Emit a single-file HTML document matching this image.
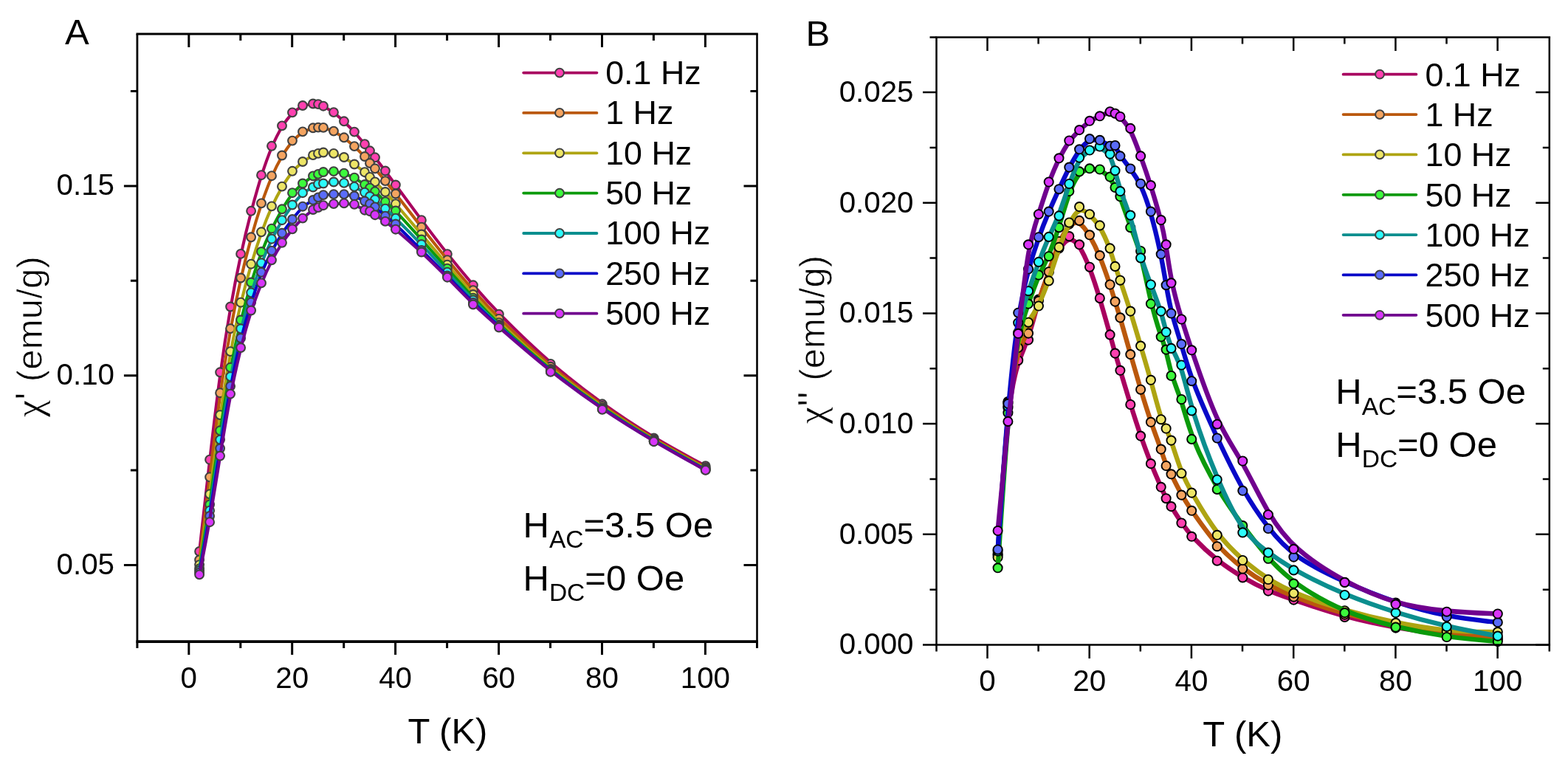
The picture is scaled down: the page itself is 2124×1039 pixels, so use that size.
<!DOCTYPE html>
<html lang="en">
<head>
<meta charset="utf-8">
<title>AC susceptibility vs temperature</title>
<style>
html,body{margin:0;padding:0;background:#fff;}
body{width:2124px;height:1039px;overflow:hidden;}
svg{display:block;}
svg text{font-family:'Liberation Sans', sans-serif;fill:#000;}
</style>
</head>
<body>
<svg width="2124" height="1039" viewBox="0 0 2124 1039">
<rect width="2124" height="1039" fill="#fff"/>
<g id="panelA">
<g><path d="M270.1 747C270.1 747 270.1 747 272.4 726.3C274.8 705.6 279.4 664.1 284.1 623.7C288.7 583.2 293.4 543.8 298.1 509.2C302.7 474.7 307.4 445.1 312.1 418.4C316.7 391.6 321.4 367.8 326.1 346.2C330.7 324.5 335.4 305.2 340.1 287.4C344.7 269.6 349.4 253.4 354 238.7C358.7 224.1 363.4 210.9 368 199.8C372.7 188.7 377.4 179.5 382 172C386.7 164.4 391.4 158.4 396 153.8C400.7 149.3 405.3 146.1 410 144.2C414.7 142.2 419.3 141.3 422.8 141C426.3 140.7 428.7 140.9 431 141.4C433.3 142 435.7 142.8 439.2 144.7C442.7 146.5 447.3 149.3 452 152.7C456.7 156.2 461.3 160.2 466 164.7C470.6 169.1 475.3 173.8 480 179C484.6 184.1 489.3 189.7 492.8 194C496.3 198.2 498.6 201.3 501 204.3C503.3 207.3 505.6 210.3 509.1 214.8C512.6 219.4 517.3 225.4 521.9 231.6C526.6 237.8 531.3 244.2 539.4 255.3C547.6 266.4 559.3 282.3 570.9 297.9C582.6 313.5 594.2 328.8 605.9 343.5C617.6 358.2 629.2 372.2 640.9 385.8C652.5 399.4 664.2 412.5 681.7 430.3C699.2 448 722.5 470.5 745.8 490.8C769.1 511 792.5 529.2 815.8 545.9C839.1 562.7 862.4 578 885.7 592C909.1 606 932.4 618.5 944 624.8C955.7 631.1 955.7 631.1 955.7 631.1" fill="none" stroke="#A8005F" stroke-width="4.1" stroke-linejoin="round" stroke-linecap="round"/>
<g fill="#FF40B0" stroke="#404040" stroke-width="2.1">
<circle cx="270.1" cy="747" r="5.9"/><circle cx="284.1" cy="622.7" r="5.9"/><circle cx="298.1" cy="504.3" r="5.9"/><circle cx="312.1" cy="415.5" r="5.9"/><circle cx="326.1" cy="343.9" r="5.9"/><circle cx="340.1" cy="285.8" r="5.9"/><circle cx="354" cy="237.2" r="5.9"/><circle cx="368" cy="197.8" r="5.9"/><circle cx="382" cy="170.4" r="5.9"/><circle cx="396" cy="152.4" r="5.9"/><circle cx="410" cy="143" r="5.9"/><circle cx="424" cy="140.5" r="5.9"/><circle cx="431" cy="141.1" r="5.9"/><circle cx="438" cy="143.7" r="5.9"/><circle cx="452" cy="152.1" r="5.9"/><circle cx="466" cy="164.3" r="5.9"/><circle cx="480" cy="178.6" r="5.9"/><circle cx="494" cy="195.2" r="5.9"/><circle cx="501" cy="204.3" r="5.9"/><circle cx="508" cy="213.3" r="5.9"/><circle cx="521.9" cy="231.5" r="5.9"/><circle cx="535.9" cy="250.5" r="5.9"/><circle cx="570.9" cy="298.2" r="5.9"/><circle cx="605.9" cy="344.1" r="5.9"/><circle cx="640.9" cy="386.3" r="5.9"/><circle cx="675.9" cy="425.6" r="5.9"/><circle cx="745.8" cy="492.9" r="5.9"/><circle cx="815.8" cy="547.3" r="5.9"/><circle cx="885.7" cy="593.4" r="5.9"/><circle cx="955.7" cy="631.1" r="5.9"/>
</g></g>
<g><path d="M270.1 758.5C270.1 758.5 270.1 758.5 272.4 739.8C274.8 721.1 279.4 683.7 284.1 646C288.7 608.3 293.4 570.2 298.1 536.7C302.7 503.2 307.4 474.1 312.1 448.2C316.7 422.2 321.4 399.4 326.1 378.7C330.7 358.1 335.4 339.7 340.1 322.8C344.7 306 349.4 290.7 354 276.8C358.7 263 363.4 250.6 368 239.8C372.7 229 377.4 219.7 382 211.8C386.7 203.9 391.4 197.2 396 191.9C400.7 186.5 405.3 182.5 410 179.6C414.7 176.7 419.3 175 422.8 174C426.3 173.1 428.7 172.8 431 172.8C433.3 172.7 435.7 172.8 439.2 173.6C442.7 174.5 447.3 176 452 178.3C456.7 180.5 461.3 183.4 466 186.8C470.6 190.2 475.3 194.2 480 198.5C484.6 202.7 489.3 207.4 492.8 211.2C496.3 215 498.6 218 501 220.7C503.3 223.4 505.6 225.9 509.1 229.9C512.6 233.9 517.3 239.5 521.9 245.2C526.6 250.9 531.3 256.7 539.4 267.1C547.6 277.6 559.3 292.6 570.9 307.6C582.6 322.5 594.2 337.4 605.9 351.6C617.6 365.9 629.2 379.5 640.9 392.8C652.5 406.1 664.2 419 681.7 436.3C699.2 453.5 722.5 475.1 745.8 494.8C769.1 514.5 792.5 532.2 815.8 548.6C839.1 565 862.4 580 885.7 593.9C909.1 607.8 932.4 620.4 944 626.8C955.7 633.1 955.7 633.1 955.7 633.1" fill="none" stroke="#BA580C" stroke-width="4.1" stroke-linejoin="round" stroke-linecap="round"/>
<g fill="#F4A460" stroke="#404040" stroke-width="2.1">
<circle cx="270.1" cy="758.5" r="5.9"/><circle cx="284.1" cy="646.3" r="5.9"/><circle cx="298.1" cy="532.2" r="5.9"/><circle cx="312.1" cy="445.1" r="5.9"/><circle cx="326.1" cy="376.5" r="5.9"/><circle cx="340.1" cy="321.3" r="5.9"/><circle cx="354" cy="275.4" r="5.9"/><circle cx="368" cy="238.2" r="5.9"/><circle cx="382" cy="210.5" r="5.9"/><circle cx="396" cy="190.6" r="5.9"/><circle cx="410" cy="178.4" r="5.9"/><circle cx="424" cy="173.3" r="5.9"/><circle cx="431" cy="172.6" r="5.9"/><circle cx="438" cy="172.9" r="5.9"/><circle cx="452" cy="177.6" r="5.9"/><circle cx="466" cy="186.3" r="5.9"/><circle cx="480" cy="198.1" r="5.9"/><circle cx="494" cy="212" r="5.9"/><circle cx="501" cy="221" r="5.9"/><circle cx="508" cy="228.3" r="5.9"/><circle cx="521.9" cy="245.1" r="5.9"/><circle cx="535.9" cy="262.5" r="5.9"/><circle cx="570.9" cy="307.7" r="5.9"/><circle cx="605.9" cy="352.2" r="5.9"/><circle cx="640.9" cy="393.2" r="5.9"/><circle cx="675.9" cy="431.9" r="5.9"/><circle cx="745.8" cy="496.8" r="5.9"/><circle cx="815.8" cy="549.9" r="5.9"/><circle cx="885.7" cy="595.1" r="5.9"/><circle cx="955.7" cy="633.1" r="5.9"/>
</g></g>
<g><path d="M270.1 765.1C270.1 765.1 270.1 765.1 272.4 749.1C274.8 733.2 279.4 701.3 284.1 667.5C288.7 633.6 293.4 597.9 298.1 565.6C302.7 533.4 307.4 504.8 312.1 479.4C316.7 454 321.4 431.8 326.1 412.1C330.7 392.4 335.4 375 340.1 359.1C344.7 343.2 349.4 328.8 354 315.7C358.7 302.7 363.4 291 368 280.7C372.7 270.5 377.4 261.5 382 253.6C386.7 245.7 391.4 238.7 396 233.1C400.7 227.5 405.3 223.3 410 219.6C414.7 216 419.3 213.1 422.8 211.2C426.3 209.4 428.7 208.6 431 208C433.3 207.4 435.7 207 439.2 207C442.7 207 447.3 207.4 452 208.5C456.7 209.6 461.3 211.3 466 213.7C470.6 216.2 475.3 219.3 480 222.7C484.6 226.1 489.3 229.6 492.8 232.5C496.3 235.4 498.6 237.7 501 239.9C503.3 242.1 505.6 244.2 509.1 247.6C512.6 250.9 517.3 255.5 521.9 260.4C526.6 265.4 531.3 270.7 539.4 280.3C547.6 289.9 559.3 303.7 570.9 317.4C582.6 331.2 594.2 344.9 605.9 358.5C617.6 372.1 629.2 385.5 640.9 398.6C652.5 411.7 664.2 424.4 681.7 441.2C699.2 458 722.5 479 745.8 498.2C769.1 517.3 792.5 534.7 815.8 550.8C839.1 566.9 862.4 581.7 885.7 595.5C909.1 609.3 932.4 622 944 628.4C955.7 634.8 955.7 634.8 955.7 634.8" fill="none" stroke="#AEA412" stroke-width="4.1" stroke-linejoin="round" stroke-linecap="round"/>
<g fill="#EDE566" stroke="#404040" stroke-width="2.1">
<circle cx="270.1" cy="765.1" r="5.9"/><circle cx="284.1" cy="669.4" r="5.9"/><circle cx="298.1" cy="562.1" r="5.9"/><circle cx="312.1" cy="476.1" r="5.9"/><circle cx="326.1" cy="409.7" r="5.9"/><circle cx="340.1" cy="357.7" r="5.9"/><circle cx="354" cy="314.3" r="5.9"/><circle cx="368" cy="279.4" r="5.9"/><circle cx="382" cy="252.6" r="5.9"/><circle cx="396" cy="231.8" r="5.9"/><circle cx="410" cy="219" r="5.9"/><circle cx="424" cy="210.1" r="5.9"/><circle cx="431" cy="207.9" r="5.9"/><circle cx="438" cy="206.5" r="5.9"/><circle cx="452" cy="207.9" r="5.9"/><circle cx="466" cy="213" r="5.9"/><circle cx="480" cy="222.5" r="5.9"/><circle cx="494" cy="233.2" r="5.9"/><circle cx="501" cy="239.9" r="5.9"/><circle cx="508" cy="246.4" r="5.9"/><circle cx="521.9" cy="260" r="5.9"/><circle cx="535.9" cy="276.1" r="5.9"/><circle cx="570.9" cy="317.5" r="5.9"/><circle cx="605.9" cy="358.6" r="5.9"/><circle cx="640.9" cy="399" r="5.9"/><circle cx="675.9" cy="437.1" r="5.9"/><circle cx="745.8" cy="499.9" r="5.9"/><circle cx="815.8" cy="552.1" r="5.9"/><circle cx="885.7" cy="596.5" r="5.9"/><circle cx="955.7" cy="634.8" r="5.9"/>
</g></g>
<g><path d="M270.1 770.3C270.1 770.3 270.1 770.3 272.4 755.8C274.8 741.4 279.4 712.4 284.1 681.3C288.7 650.1 293.4 616.7 298.1 585.8C302.7 554.8 307.4 526.3 312.1 501.3C316.7 476.4 321.4 454.9 326.1 435.7C330.7 416.5 335.4 399.5 340.1 384.1C344.7 368.7 349.4 354.8 354 342.7C358.7 330.6 363.4 320.1 368 310.5C372.7 300.9 377.4 292.1 382 284C386.7 275.9 391.4 268.6 396 262.8C400.7 257 405.3 252.7 410 248.9C414.7 245.1 419.3 241.8 422.8 239.7C426.3 237.6 428.7 236.7 431 235.8C433.3 234.9 435.7 234 439.2 233.3C442.7 232.7 447.3 232.4 452 232.7C456.7 232.9 461.3 233.8 466 235.2C470.6 236.6 475.3 238.7 480 241.2C484.6 243.8 489.3 246.9 492.8 249.2C496.3 251.5 498.6 253.1 501 254.6C503.3 256.2 505.6 257.8 509.1 260.9C512.6 264 517.3 268.6 521.9 272.9C526.6 277.3 531.3 281.4 539.4 289.9C547.6 298.5 559.3 311.5 570.9 324.5C582.6 337.5 594.2 350.6 605.9 363.8C617.6 376.9 629.2 390.3 640.9 403C652.5 415.7 664.2 427.9 681.7 444.2C699.2 460.6 722.5 481.1 745.8 500C769.1 518.9 792.5 536.1 815.8 552C839.1 567.9 862.4 582.6 885.7 596.3C909.1 610.1 932.4 622.9 944 629.3C955.7 635.7 955.7 635.7 955.7 635.7" fill="none" stroke="#0B9A0B" stroke-width="4.1" stroke-linejoin="round" stroke-linecap="round"/>
<g fill="#3CFA3C" stroke="#404040" stroke-width="2.1">
<circle cx="270.1" cy="770.3" r="5.9"/><circle cx="284.1" cy="683.5" r="5.9"/><circle cx="298.1" cy="583.3" r="5.9"/><circle cx="312.1" cy="497.8" r="5.9"/><circle cx="326.1" cy="433.5" r="5.9"/><circle cx="340.1" cy="382.5" r="5.9"/><circle cx="354" cy="341" r="5.9"/><circle cx="368" cy="309.7" r="5.9"/><circle cx="382" cy="283.3" r="5.9"/><circle cx="396" cy="261.2" r="5.9"/><circle cx="410" cy="248.5" r="5.9"/><circle cx="424" cy="238.4" r="5.9"/><circle cx="431" cy="235.9" r="5.9"/><circle cx="438" cy="233" r="5.9"/><circle cx="452" cy="232.1" r="5.9"/><circle cx="466" cy="234.6" r="5.9"/><circle cx="480" cy="240.7" r="5.9"/><circle cx="494" cy="250" r="5.9"/><circle cx="501" cy="254.6" r="5.9"/><circle cx="508" cy="259.4" r="5.9"/><circle cx="521.9" cy="273.2" r="5.9"/><circle cx="535.9" cy="285.5" r="5.9"/><circle cx="570.9" cy="324.5" r="5.9"/><circle cx="605.9" cy="363.6" r="5.9"/><circle cx="640.9" cy="403.6" r="5.9"/><circle cx="675.9" cy="440" r="5.9"/><circle cx="745.8" cy="501.7" r="5.9"/><circle cx="815.8" cy="553.3" r="5.9"/><circle cx="885.7" cy="597.2" r="5.9"/><circle cx="955.7" cy="635.7" r="5.9"/>
</g></g>
<g><path d="M270.1 773C270.1 773 270.1 773 272.4 759.4C274.8 745.9 279.4 718.8 284.1 689.2C288.7 659.7 293.4 627.6 298.1 597.4C302.7 567.1 307.4 538.6 312.1 513.6C316.7 488.5 321.4 466.9 326.1 448C330.7 429 335.4 412.7 340.1 397.9C344.7 383 349.4 369.7 354 357.5C358.7 345.4 363.4 334.6 368 324.9C372.7 315.2 377.4 306.7 382 299C386.7 291.3 391.4 284.4 396 278.2C400.7 272.1 405.3 266.6 410 262.6C414.7 258.6 419.3 256.1 422.8 254.1C426.3 252.1 428.7 250.7 431 249.9C433.3 249 435.7 248.8 439.2 248.3C442.7 247.8 447.3 247.2 452 247.1C456.7 247 461.3 247.4 466 248.5C470.6 249.6 475.3 251.2 480 253.4C484.6 255.5 489.3 258.1 492.8 260.3C496.3 262.5 498.6 264.2 501 265.8C503.3 267.4 505.6 268.9 509.1 271.6C512.6 274.4 517.3 278.5 521.9 282.7C526.6 286.9 531.3 291.3 539.4 299.3C547.6 307.4 559.3 319.2 570.9 331.4C582.6 343.6 594.2 356.1 605.9 368.7C617.6 381.3 629.2 393.9 640.9 406C652.5 418.2 664.2 429.8 681.7 445.9C699.2 461.9 722.5 482.3 745.8 501C769.1 519.8 792.5 536.9 815.8 552.7C839.1 568.5 862.4 583.1 885.7 596.8C909.1 610.5 932.4 623.4 944 629.8C955.7 636.3 955.7 636.3 955.7 636.3" fill="none" stroke="#0B8E8E" stroke-width="4.1" stroke-linejoin="round" stroke-linecap="round"/>
<g fill="#2CFAFA" stroke="#404040" stroke-width="2.1">
<circle cx="270.1" cy="773" r="5.9"/><circle cx="284.1" cy="691.7" r="5.9"/><circle cx="298.1" cy="595.6" r="5.9"/><circle cx="312.1" cy="510.1" r="5.9"/><circle cx="326.1" cy="445.3" r="5.9"/><circle cx="340.1" cy="396.4" r="5.9"/><circle cx="354" cy="356.3" r="5.9"/><circle cx="368" cy="323.7" r="5.9"/><circle cx="382" cy="298.2" r="5.9"/><circle cx="396" cy="277.5" r="5.9"/><circle cx="410" cy="261.2" r="5.9"/><circle cx="424" cy="253.5" r="5.9"/><circle cx="431" cy="249.3" r="5.9"/><circle cx="438" cy="248.5" r="5.9"/><circle cx="452" cy="246.5" r="5.9"/><circle cx="466" cy="247.9" r="5.9"/><circle cx="480" cy="252.9" r="5.9"/><circle cx="494" cy="260.7" r="5.9"/><circle cx="501" cy="266" r="5.9"/><circle cx="508" cy="270.3" r="5.9"/><circle cx="521.9" cy="282.6" r="5.9"/><circle cx="535.9" cy="295.6" r="5.9"/><circle cx="570.9" cy="331" r="5.9"/><circle cx="605.9" cy="368.7" r="5.9"/><circle cx="640.9" cy="406.5" r="5.9"/><circle cx="675.9" cy="441.5" r="5.9"/><circle cx="745.8" cy="502.7" r="5.9"/><circle cx="815.8" cy="554" r="5.9"/><circle cx="885.7" cy="597.7" r="5.9"/><circle cx="955.7" cy="636.3" r="5.9"/>
</g></g>
<g><path d="M270.1 775.7C270.1 775.7 270.1 775.7 272.4 762.9C274.8 750.1 279.4 724.6 284.1 696.5C288.7 668.5 293.4 638 298.1 608.7C302.7 579.4 307.4 551.2 312.1 526.3C316.7 501.4 321.4 479.7 326.1 460.8C330.7 441.9 335.4 425.8 340.1 411C344.7 396.1 349.4 382.5 354 370.8C358.7 359.1 363.4 349.4 368 340.5C372.7 331.7 377.4 323.7 382 316.6C386.7 309.5 391.4 303.3 396 297.2C400.7 291.2 405.3 285.5 410 281.1C414.7 276.8 419.3 273.9 422.8 271.8C426.3 269.8 428.7 268.6 431 267.4C433.3 266.3 435.7 265.2 439.2 264.5C442.7 263.8 447.3 263.4 452 263.3C456.7 263.1 461.3 263.1 466 263.5C470.6 263.9 475.3 264.7 480 266.3C484.6 267.8 489.3 270.2 492.8 271.9C496.3 273.7 498.6 274.9 501 276.2C503.3 277.5 505.6 279 509.1 281.7C512.6 284.5 517.3 288.6 521.9 292.4C526.6 296.3 531.3 299.9 539.4 307.6C547.6 315.3 559.3 327.2 570.9 338.8C582.6 350.5 594.2 362 605.9 373.8C617.6 385.7 629.2 397.8 640.9 409.3C652.5 420.8 664.2 431.7 681.7 447.2C699.2 462.7 722.5 483 745.8 501.6C769.1 520.3 792.5 537.3 815.8 553.1C839.1 568.9 862.4 583.4 885.7 597.1C909.1 610.8 932.4 623.7 944 630.1C955.7 636.6 955.7 636.6 955.7 636.6" fill="none" stroke="#0808C8" stroke-width="4.1" stroke-linejoin="round" stroke-linecap="round"/>
<g fill="#5A6CFA" stroke="#404040" stroke-width="2.1">
<circle cx="270.1" cy="775.7" r="5.9"/><circle cx="284.1" cy="699" r="5.9"/><circle cx="298.1" cy="607.5" r="5.9"/><circle cx="312.1" cy="523.1" r="5.9"/><circle cx="326.1" cy="458" r="5.9"/><circle cx="340.1" cy="409.7" r="5.9"/><circle cx="354" cy="368.9" r="5.9"/><circle cx="368" cy="339.6" r="5.9"/><circle cx="382" cy="315.8" r="5.9"/><circle cx="396" cy="297" r="5.9"/><circle cx="410" cy="279.7" r="5.9"/><circle cx="424" cy="271" r="5.9"/><circle cx="431" cy="267.4" r="5.9"/><circle cx="438" cy="264.1" r="5.9"/><circle cx="452" cy="263.1" r="5.9"/><circle cx="466" cy="263.1" r="5.9"/><circle cx="480" cy="265.5" r="5.9"/><circle cx="494" cy="272.5" r="5.9"/><circle cx="501" cy="276.1" r="5.9"/><circle cx="508" cy="280.4" r="5.9"/><circle cx="521.9" cy="292.7" r="5.9"/><circle cx="535.9" cy="303.5" r="5.9"/><circle cx="570.9" cy="339" r="5.9"/><circle cx="605.9" cy="373.5" r="5.9"/><circle cx="640.9" cy="410" r="5.9"/><circle cx="675.9" cy="442.5" r="5.9"/><circle cx="745.8" cy="503.2" r="5.9"/><circle cx="815.8" cy="554.3" r="5.9"/><circle cx="885.7" cy="597.9" r="5.9"/><circle cx="955.7" cy="636.6" r="5.9"/>
</g></g>
<g><path d="M270.1 778.4C270.1 778.4 270.1 778.4 272.4 766.5C274.8 754.7 279.4 730.9 284.1 704.1C288.7 677.3 293.4 647.5 298.1 618.5C302.7 589.6 307.4 561.6 312.1 537.2C316.7 512.7 321.4 491.9 326.1 473C330.7 454.2 335.4 437.3 340.1 422.7C344.7 408.1 349.4 395.8 354 384.4C358.7 373 363.4 362.7 368 353.6C372.7 344.5 377.4 336.6 382 329.6C386.7 322.6 391.4 316.5 396 310.9C400.7 305.4 405.3 300.5 410 296.1C414.7 291.7 419.3 287.9 422.8 285.4C426.3 283 428.7 282.1 431 281.1C433.3 280.1 435.7 279.2 439.2 278.3C442.7 277.5 447.3 276.8 452 276.3C456.7 275.9 461.3 275.6 466 275.7C470.6 275.9 475.3 276.3 480 277.9C484.6 279.4 489.3 282.1 492.8 283.6C496.3 285.2 498.6 285.7 501 286.8C503.3 287.9 505.6 289.5 509.1 291.8C512.6 294.1 517.3 297 521.9 300.2C526.6 303.5 531.3 307.1 539.4 314C547.6 321 559.3 331.2 570.9 342.1C582.6 352.9 594.2 364.3 605.9 376.1C617.6 388 629.2 400.2 640.9 411.5C652.5 422.8 664.2 433.2 681.7 448.4C699.2 463.6 722.5 483.8 745.8 502.3C769.1 520.9 792.5 537.8 815.8 553.6C839.1 569.3 862.4 583.7 885.7 597.4C909.1 611.1 932.4 624 944 630.5C955.7 636.9 955.7 636.9 955.7 636.9" fill="none" stroke="#70008E" stroke-width="4.1" stroke-linejoin="round" stroke-linecap="round"/>
<g fill="#D835FA" stroke="#404040" stroke-width="2.1">
<circle cx="270.1" cy="778.4" r="5.9"/><circle cx="284.1" cy="707.2" r="5.9"/><circle cx="298.1" cy="617.6" r="5.9"/><circle cx="312.1" cy="533.6" r="5.9"/><circle cx="326.1" cy="471" r="5.9"/><circle cx="340.1" cy="420.5" r="5.9"/><circle cx="354" cy="383.4" r="5.9"/><circle cx="368" cy="352.3" r="5.9"/><circle cx="382" cy="328.8" r="5.9"/><circle cx="396" cy="310.3" r="5.9"/><circle cx="410" cy="295.6" r="5.9"/><circle cx="424" cy="284" r="5.9"/><circle cx="431" cy="281.1" r="5.9"/><circle cx="438" cy="278.2" r="5.9"/><circle cx="452" cy="276.1" r="5.9"/><circle cx="466" cy="275.4" r="5.9"/><circle cx="480" cy="276.8" r="5.9"/><circle cx="494" cy="284.7" r="5.9"/><circle cx="501" cy="286.2" r="5.9"/><circle cx="508" cy="291.2" r="5.9"/><circle cx="521.9" cy="299.9" r="5.9"/><circle cx="535.9" cy="310.7" r="5.9"/><circle cx="570.9" cy="341.5" r="5.9"/><circle cx="605.9" cy="375.7" r="5.9"/><circle cx="640.9" cy="412.5" r="5.9"/><circle cx="675.9" cy="443.5" r="5.9"/><circle cx="745.8" cy="503.9" r="5.9"/><circle cx="815.8" cy="554.8" r="5.9"/><circle cx="885.7" cy="598.2" r="5.9"/><circle cx="955.7" cy="636.9" r="5.9"/>
</g></g>
<g stroke="#000" fill="none" stroke-linecap="butt">
<path d="M184.5 46H1026.8" stroke-width="3.0"/>
<path d="M1025.5 46V869.1" stroke-width="2.6"/>
<path d="M184.5 869.1H1026.8" stroke-width="3.6"/>
<path d="M185.9 46V869.1" stroke-width="2.8"/>
</g>
<path d="M185.9 869.1v9M255.8 869.1v18M255.8 46v18M325.8 869.1v9M325.8 46v9M395.7 869.1v18M395.7 46v18M465.7 869.1v9M465.7 46v9M535.6 869.1v18M535.6 46v18M605.6 869.1v9M605.6 46v9M675.6 869.1v18M675.6 46v18M745.5 869.1v9M745.5 46v9M815.5 869.1v18M815.5 46v18M885.4 869.1v9M885.4 46v9M955.4 869.1v18M955.4 46v18M1025.5 869.1v9M185.9 765.6h-18M1025.5 765.6h-18M185.9 508.7h-18M1025.5 508.7h-18M185.9 251.9h-18M1025.5 251.9h-18M185.9 637.1h-9M1025.5 637.1h-9M185.9 380.3h-9M1025.5 380.3h-9M185.9 123.4h-9M1025.5 123.4h-9" fill="none" stroke="#000" stroke-width="3.0" stroke-linecap="butt" stroke-linejoin="miter"/>
<g font-size="40.3" text-anchor="middle">
<text x="255.8" y="931.8">0</text>
<text x="395.7" y="931.8">20</text>
<text x="535.6" y="931.8">40</text>
<text x="675.6" y="931.8">60</text>
<text x="815.5" y="931.8">80</text>
<text x="955.4" y="931.8">100</text>
</g><g font-size="40.3" text-anchor="end">
<text x="155" y="778.4">0.05</text>
<text x="155" y="521">0.10</text>
<text x="155" y="263.7">0.15</text>
</g>
<text font-size="49.0" text-anchor="middle" x="606.4" y="1006.8">T (K)</text>
<text font-size="49.0" text-anchor="middle" transform="translate(57.4 456) rotate(-90)" stroke="#fff" stroke-width="0.8" paint-order="fill stroke" letter-spacing="0.2" xml:space="preserve"><tspan font-family="'Liberation Serif', serif" font-size="52" stroke-width="0.4">χ</tspan><tspan dy="1.5" font-size="55">'</tspan><tspan dy="-1.5"> (emu/g)</tspan></text>
<text font-size="49.0" x="88" y="60.3">A</text>
<path d="M709.2 98.6H808.4" stroke="#A8005F" stroke-width="3.8" stroke-linecap="round" fill="none"/>
<circle cx="758" cy="98.6" r="5.9" fill="#FF40B0" stroke="#404040" stroke-width="2.0"/>
<text font-size="44.8" x="820.2" y="113.8">0.1 Hz</text>
<path d="M709.2 152.9H808.4" stroke="#BA580C" stroke-width="3.8" stroke-linecap="round" fill="none"/>
<circle cx="758" cy="152.9" r="5.9" fill="#F4A460" stroke="#404040" stroke-width="2.0"/>
<text font-size="44.8" x="820.2" y="168.1">1 Hz</text>
<path d="M709.2 207.3H808.4" stroke="#AEA412" stroke-width="3.8" stroke-linecap="round" fill="none"/>
<circle cx="758" cy="207.3" r="5.9" fill="#EDE566" stroke="#404040" stroke-width="2.0"/>
<text font-size="44.8" x="820.2" y="222.5">10 Hz</text>
<path d="M709.2 261.6H808.4" stroke="#0B9A0B" stroke-width="3.8" stroke-linecap="round" fill="none"/>
<circle cx="758" cy="261.6" r="5.9" fill="#3CFA3C" stroke="#404040" stroke-width="2.0"/>
<text font-size="44.8" x="820.2" y="276.8">50 Hz</text>
<path d="M709.2 316H808.4" stroke="#0B8E8E" stroke-width="3.8" stroke-linecap="round" fill="none"/>
<circle cx="758" cy="316" r="5.9" fill="#2CFAFA" stroke="#404040" stroke-width="2.0"/>
<text font-size="44.8" x="820.2" y="331.2">100 Hz</text>
<path d="M709.2 370.4H808.4" stroke="#0808C8" stroke-width="3.8" stroke-linecap="round" fill="none"/>
<circle cx="758" cy="370.4" r="5.9" fill="#5A6CFA" stroke="#404040" stroke-width="2.0"/>
<text font-size="44.8" x="820.2" y="385.6">250 Hz</text>
<path d="M709.2 424.7H808.4" stroke="#70008E" stroke-width="3.8" stroke-linecap="round" fill="none"/>
<circle cx="758" cy="424.7" r="5.9" fill="#D835FA" stroke="#404040" stroke-width="2.0"/>
<text font-size="44.8" x="820.2" y="439.9">500 Hz</text>
<text font-size="49.0" x="708.5" y="727.8">H<tspan font-size="33.5" dy="14.3">AC</tspan><tspan dy="-14.3">=3.5 Oe</tspan></text>
<text font-size="49.0" x="708.5" y="799.6">H<tspan font-size="33.5" dy="14.3">DC</tspan><tspan dy="-14.3">=0 Oe</tspan></text>
</g>
<g id="panelB">
<g><path d="M1351.6 750.6C1351.6 750.6 1351.6 750.6 1353.9 716.2C1356.2 681.8 1360.8 612.9 1365.4 569.2C1370 525.5 1374.6 506.8 1379.2 492.9C1383.8 479 1388.4 469.8 1393 456C1397.6 442.3 1402.3 423.9 1406.9 408.6C1411.5 393.3 1416.1 380.9 1420.7 369.4C1425.3 357.9 1429.9 347.3 1434.5 339.2C1439.1 331.1 1443.7 325.6 1448.3 324.7C1452.9 323.8 1457.5 327.6 1462.1 334.5C1466.8 341.4 1471.4 351.6 1476 363.7C1480.6 375.8 1485.2 389.8 1489.8 405.1C1494.4 420.4 1499 436.9 1502.5 449.3C1505.9 461.8 1508.2 470.2 1510.5 478.3C1512.8 486.3 1515.1 494.1 1518.6 505.6C1522 517.2 1526.7 532.6 1531.3 547.4C1535.9 562.2 1540.5 576.4 1545.1 589.8C1549.7 603.1 1554.3 615.6 1558.9 627.1C1563.5 638.7 1568.1 649.2 1571.6 657.1C1575 664.9 1577.3 670.1 1579.6 674.5C1581.9 678.8 1584.2 682.5 1587.7 688C1591.2 693.6 1595.8 701 1600.4 707.8C1605 714.6 1609.6 720.7 1617.6 729.2C1625.7 737.8 1637.2 748.7 1648.7 758C1660.3 767.3 1671.8 774.8 1683.3 781.7C1694.8 788.5 1706.3 794.5 1717.9 799.6C1729.4 804.6 1740.9 808.6 1758.2 814.5C1775.4 820.4 1798.5 828.1 1821.5 834.5C1844.6 840.8 1867.6 845.7 1890.6 849.8C1913.7 853.9 1936.7 857.3 1959.7 859.9C1982.8 862.6 2005.8 864.6 2017.3 865.6C2028.8 866.6 2028.8 866.6 2028.9 866.6" fill="none" stroke="#A8005F" stroke-width="6.4" stroke-linejoin="round" stroke-linecap="round"/>
<g fill="#FF40B0" stroke="#000000" stroke-width="1.9">
<circle cx="1351.6" cy="750.6" r="6.1"/><circle cx="1365.4" cy="544.1" r="6.1"/><circle cx="1379.2" cy="488.2" r="6.1"/><circle cx="1393" cy="460.6" r="6.1"/><circle cx="1406.9" cy="405.6" r="6.1"/><circle cx="1420.7" cy="368.6" r="6.1"/><circle cx="1434.5" cy="336.6" r="6.1"/><circle cx="1448.3" cy="320.1" r="6.1"/><circle cx="1462.1" cy="331.3" r="6.1"/><circle cx="1476" cy="361.7" r="6.1"/><circle cx="1489.8" cy="403.9" r="6.1"/><circle cx="1503.6" cy="453.4" r="6.1"/><circle cx="1510.5" cy="478.6" r="6.1"/><circle cx="1517.4" cy="501.8" r="6.1"/><circle cx="1531.3" cy="548" r="6.1"/><circle cx="1545.1" cy="590.6" r="6.1"/><circle cx="1558.9" cy="628.1" r="6.1"/><circle cx="1572.7" cy="659.8" r="6.1"/><circle cx="1579.6" cy="675.2" r="6.1"/><circle cx="1586.5" cy="686.1" r="6.1"/><circle cx="1600.4" cy="708.5" r="6.1"/><circle cx="1614.2" cy="726.8" r="6.1"/><circle cx="1648.7" cy="759.7" r="6.1"/><circle cx="1683.3" cy="782.4" r="6.1"/><circle cx="1717.9" cy="800.6" r="6.1"/><circle cx="1752.4" cy="812.6" r="6.1"/><circle cx="1821.5" cy="835.9" r="6.1"/><circle cx="1890.6" cy="850.6" r="6.1"/><circle cx="1959.7" cy="860.6" r="6.1"/><circle cx="2028.8" cy="866.6" r="6.1"/>
</g></g>
<g><path d="M1351.6 752.6C1351.6 752.6 1351.6 752.6 1353.9 718.1C1356.2 683.6 1360.8 614.6 1365.4 567.6C1370 520.7 1374.6 495.8 1379.2 480.1C1383.8 464.5 1388.4 458 1393 447.5C1397.6 436.9 1402.3 422.3 1406.9 408.4C1411.5 394.5 1416.1 381.3 1420.7 367.9C1425.3 354.5 1429.9 340.7 1434.5 330C1439.1 319.2 1443.7 311.4 1448.3 306.7C1452.9 302 1457.5 300.5 1462.1 302.9C1466.8 305.4 1471.4 311.8 1476 319.7C1480.6 327.6 1485.2 336.8 1489.8 348C1494.4 359.2 1499 372.4 1502.5 382.8C1505.9 393.2 1508.2 400.9 1510.5 408.4C1512.8 415.8 1515.1 423.1 1518.6 435C1522 446.9 1526.7 463.5 1531.3 479.7C1535.9 496 1540.5 511.8 1545.1 527.1C1549.7 542.4 1554.3 557.1 1558.9 570.6C1563.5 584.1 1568.1 596.3 1571.6 606.2C1575 616.1 1577.3 623.5 1579.6 629.1C1581.9 634.8 1584.2 638.5 1587.7 645.1C1591.2 651.7 1595.8 661.2 1600.4 669.4C1605 677.7 1609.6 684.7 1617.6 696.3C1625.7 707.9 1637.2 724.1 1648.7 737.2C1660.3 750.3 1671.8 760.4 1683.3 769.1C1694.8 777.9 1706.3 785.2 1717.9 791.6C1729.4 797.9 1740.9 803.3 1758.2 809.9C1775.4 816.6 1798.5 824.6 1821.5 830.9C1844.6 837.3 1867.6 841.9 1890.6 846.1C1913.7 850.3 1936.7 853.9 1959.7 856.9C1982.8 859.9 2005.8 862.3 2017.3 863.4C2028.8 864.6 2028.8 864.6 2028.9 864.6" fill="none" stroke="#BA580C" stroke-width="6.4" stroke-linejoin="round" stroke-linecap="round"/>
<g fill="#F4A460" stroke="#000000" stroke-width="1.9">
<circle cx="1351.6" cy="752.6" r="6.1"/><circle cx="1365.4" cy="545.6" r="6.1"/><circle cx="1379.2" cy="470.9" r="6.1"/><circle cx="1393" cy="451.6" r="6.1"/><circle cx="1406.9" cy="407.6" r="6.1"/><circle cx="1420.7" cy="368.2" r="6.1"/><circle cx="1434.5" cy="327" r="6.1"/><circle cx="1448.3" cy="303.6" r="6.1"/><circle cx="1462.1" cy="298.9" r="6.1"/><circle cx="1476" cy="318.3" r="6.1"/><circle cx="1489.8" cy="346.1" r="6.1"/><circle cx="1503.6" cy="385.5" r="6.1"/><circle cx="1510.5" cy="408.6" r="6.1"/><circle cx="1517.4" cy="430.3" r="6.1"/><circle cx="1531.3" cy="480.1" r="6.1"/><circle cx="1545.1" cy="527.7" r="6.1"/><circle cx="1558.9" cy="571.8" r="6.1"/><circle cx="1572.7" cy="608.6" r="6.1"/><circle cx="1579.6" cy="631" r="6.1"/><circle cx="1586.5" cy="642.3" r="6.1"/><circle cx="1600.4" cy="670.6" r="6.1"/><circle cx="1614.2" cy="691.8" r="6.1"/><circle cx="1648.7" cy="740.2" r="6.1"/><circle cx="1683.3" cy="770.5" r="6.1"/><circle cx="1717.9" cy="792.6" r="6.1"/><circle cx="1752.4" cy="808.6" r="6.1"/><circle cx="1821.5" cy="832.6" r="6.1"/><circle cx="1890.6" cy="846.6" r="6.1"/><circle cx="1959.7" cy="857.6" r="6.1"/><circle cx="2028.8" cy="864.6" r="6.1"/>
</g></g>
<g><path d="M1351.6 755.1C1351.6 755.1 1351.6 755.1 1353.9 721.4C1356.2 687.6 1360.8 620.1 1365.4 569.7C1370 519.3 1374.6 485.9 1379.2 466.6C1383.8 447.3 1388.4 442 1393 435.7C1397.6 429.3 1402.3 421.9 1406.9 412.5C1411.5 403.1 1416.1 391.8 1420.7 378.5C1425.3 365.2 1429.9 350.1 1434.5 336.9C1439.1 323.8 1443.7 312.6 1448.3 303.5C1452.9 294.4 1457.5 287.2 1462.1 285.4C1466.8 283.5 1471.4 286.8 1476 291.1C1480.6 295.3 1485.2 300.3 1489.8 308C1494.4 315.7 1499 326.1 1502.5 335.3C1505.9 344.6 1508.2 352.7 1510.5 360C1512.8 367.2 1515.1 373.4 1518.6 383.6C1522 393.7 1526.7 407.6 1531.3 422.5C1535.9 437.3 1540.5 452.9 1545.1 468.5C1549.7 484 1554.3 499.4 1558.9 516C1563.5 532.6 1568.1 550.4 1571.6 561.4C1575 572.3 1577.3 576.4 1579.6 581.1C1581.9 585.9 1584.2 591.2 1587.7 601.4C1591.2 611.5 1595.8 626.3 1600.4 638.2C1605 650 1609.6 658.8 1617.6 672.7C1625.7 686.7 1637.2 705.7 1648.7 721C1660.3 736.2 1671.8 747.6 1683.3 757.6C1694.8 767.7 1706.3 776.3 1717.9 783.8C1729.4 791.2 1740.9 797.4 1758.2 804.4C1775.4 811.5 1798.5 819.3 1821.5 826C1844.6 832.7 1867.6 838.3 1890.6 843C1913.7 847.7 1936.7 851.5 1959.7 853.6C1982.8 855.6 2005.8 855.9 2017.3 856C2028.8 856.1 2028.8 856.1 2028.9 856.1" fill="none" stroke="#AEA412" stroke-width="6.4" stroke-linejoin="round" stroke-linecap="round"/>
<g fill="#EDE566" stroke="#000000" stroke-width="1.9">
<circle cx="1351.6" cy="755.1" r="6.1"/><circle cx="1365.4" cy="552.6" r="6.1"/><circle cx="1379.2" cy="452.6" r="6.1"/><circle cx="1393" cy="436.7" r="6.1"/><circle cx="1406.9" cy="414.5" r="6.1"/><circle cx="1420.7" cy="380.4" r="6.1"/><circle cx="1434.5" cy="334.9" r="6.1"/><circle cx="1448.3" cy="301.5" r="6.1"/><circle cx="1462.1" cy="280.1" r="6.1"/><circle cx="1476" cy="290.2" r="6.1"/><circle cx="1489.8" cy="305.4" r="6.1"/><circle cx="1503.6" cy="336.4" r="6.1"/><circle cx="1510.5" cy="360.9" r="6.1"/><circle cx="1517.4" cy="379.7" r="6.1"/><circle cx="1531.3" cy="421.6" r="6.1"/><circle cx="1545.1" cy="468.6" r="6.1"/><circle cx="1558.9" cy="514.8" r="6.1"/><circle cx="1572.7" cy="568.2" r="6.1"/><circle cx="1579.6" cy="580.5" r="6.1"/><circle cx="1586.5" cy="596.6" r="6.1"/><circle cx="1600.4" cy="641.2" r="6.1"/><circle cx="1614.2" cy="667.6" r="6.1"/><circle cx="1648.7" cy="724.8" r="6.1"/><circle cx="1683.3" cy="759" r="6.1"/><circle cx="1717.9" cy="785" r="6.1"/><circle cx="1752.4" cy="803.6" r="6.1"/><circle cx="1821.5" cy="827.2" r="6.1"/><circle cx="1890.6" cy="843.8" r="6.1"/><circle cx="1959.7" cy="855.4" r="6.1"/><circle cx="2028.8" cy="856.1" r="6.1"/>
</g></g>
<g><path d="M1351.6 769.3C1351.6 769.3 1351.6 769.3 1353.9 734.3C1356.2 699.3 1360.8 629.3 1365.4 576.2C1370 523.1 1374.6 486.8 1379.2 462.2C1383.8 437.6 1388.4 424.6 1393 411.6C1397.6 398.6 1402.3 385.5 1406.9 374.8C1411.5 364.1 1416.1 355.6 1420.7 344.9C1425.3 334.2 1429.9 321.2 1434.5 306.5C1439.1 291.8 1443.7 275.5 1448.3 262.8C1452.9 250.2 1457.5 241.3 1462.1 236.2C1466.8 231 1471.4 229.7 1476 229.2C1480.6 228.7 1485.2 229.1 1489.8 231C1494.4 232.9 1499 236.2 1502.5 240.3C1505.9 244.4 1508.2 249.2 1510.5 253.6C1512.8 258.1 1515.1 262.2 1518.6 271.2C1522 280.3 1526.7 294.2 1531.3 306.5C1535.9 318.8 1540.5 329.4 1545.1 346.6C1549.7 363.8 1554.3 387.7 1558.9 407.1C1563.5 426.4 1568.1 441.4 1571.6 451.7C1575 462.1 1577.3 467.8 1579.6 476.6C1581.9 485.4 1584.2 497.2 1587.7 508.4C1591.2 519.7 1595.8 530.3 1600.4 544.6C1605 559 1609.6 576.9 1617.6 597.2C1625.7 617.6 1637.2 640.2 1648.7 659.8C1660.3 679.3 1671.8 695.7 1683.3 711.4C1694.8 727 1706.3 741.9 1717.9 755C1729.4 768.1 1740.9 779.3 1758.2 791.6C1775.4 803.8 1798.5 816.9 1821.5 826.8C1844.6 836.6 1867.6 843.1 1890.6 848.6C1913.7 854.1 1936.7 858.5 1959.7 861.8C1982.8 865 2005.8 867.1 2017.3 868.1C2028.8 869.1 2028.8 869.1 2028.9 869.1" fill="none" stroke="#0B9A0B" stroke-width="6.4" stroke-linejoin="round" stroke-linecap="round"/>
<g fill="#3CFA3C" stroke="#000000" stroke-width="1.9">
<circle cx="1351.6" cy="769.3" r="6.1"/><circle cx="1365.4" cy="559.3" r="6.1"/><circle cx="1379.2" cy="450.6" r="6.1"/><circle cx="1393" cy="411.6" r="6.1"/><circle cx="1406.9" cy="372.5" r="6.1"/><circle cx="1420.7" cy="347.2" r="6.1"/><circle cx="1434.5" cy="308.2" r="6.1"/><circle cx="1448.3" cy="259.1" r="6.1"/><circle cx="1462.1" cy="232.4" r="6.1"/><circle cx="1476" cy="228.3" r="6.1"/><circle cx="1489.8" cy="229.5" r="6.1"/><circle cx="1503.6" cy="239.6" r="6.1"/><circle cx="1510.5" cy="254" r="6.1"/><circle cx="1517.4" cy="266.3" r="6.1"/><circle cx="1531.3" cy="308.2" r="6.1"/><circle cx="1545.1" cy="340" r="6.1"/><circle cx="1558.9" cy="411.5" r="6.1"/><circle cx="1572.7" cy="456.3" r="6.1"/><circle cx="1579.6" cy="473.6" r="6.1"/><circle cx="1586.5" cy="509" r="6.1"/><circle cx="1600.4" cy="541" r="6.1"/><circle cx="1614.2" cy="594.9" r="6.1"/><circle cx="1648.7" cy="662.9" r="6.1"/><circle cx="1683.3" cy="712.1" r="6.1"/><circle cx="1717.9" cy="756.8" r="6.1"/><circle cx="1752.4" cy="790.6" r="6.1"/><circle cx="1821.5" cy="830.1" r="6.1"/><circle cx="1890.6" cy="849.6" r="6.1"/><circle cx="1959.7" cy="863" r="6.1"/><circle cx="2028.8" cy="869.1" r="6.1"/>
</g></g>
<g><path d="M1351.6 746.6C1351.6 746.6 1351.6 746.6 1353.9 713.9C1356.2 681.3 1360.8 615.9 1365.4 564.4C1370 512.8 1374.6 475 1379.2 448.9C1383.8 422.9 1388.4 408.5 1393 394.8C1397.6 381.1 1402.3 368 1406.9 355.8C1411.5 343.6 1416.1 332.2 1420.7 321.8C1425.3 311.4 1429.9 301.9 1434.5 289.9C1439.1 277.9 1443.7 263.5 1448.3 250.3C1452.9 237.2 1457.5 225.4 1462.1 217.8C1466.8 210.2 1471.4 206.9 1476 204.3C1480.6 201.8 1485.2 200.2 1489.8 201C1494.4 201.9 1499 205.2 1502.5 210.7C1505.9 216.1 1508.2 223.7 1510.5 232.1C1512.8 240.5 1515.1 249.8 1518.6 259.9C1522 269.9 1526.7 280.8 1531.3 295.8C1535.9 310.9 1540.5 330.1 1545.1 345.8C1549.7 361.4 1554.3 373.5 1558.9 385.5C1563.5 397.5 1568.1 409.6 1571.6 420.3C1575 431 1577.3 440.4 1579.6 448.8C1581.9 457.2 1584.2 464.5 1587.7 472C1591.2 479.4 1595.8 487 1600.4 501.1C1605 515.1 1609.6 535.8 1617.6 561.6C1625.7 587.5 1637.2 618.6 1648.7 646.1C1660.3 673.6 1671.8 697.5 1683.3 714C1694.8 730.5 1706.3 739.5 1717.9 748C1729.4 756.5 1740.9 764.5 1758.2 774C1775.4 783.6 1798.5 794.8 1821.5 804.4C1844.6 814 1867.6 822.1 1890.6 829.2C1913.7 836.4 1936.7 842.6 1959.7 847.9C1982.8 853.1 2005.8 857.4 2017.3 859.5C2028.8 861.6 2028.8 861.6 2028.9 861.6" fill="none" stroke="#0B8E8E" stroke-width="6.4" stroke-linejoin="round" stroke-linecap="round"/>
<g fill="#2CFAFA" stroke="#000000" stroke-width="1.9">
<circle cx="1351.6" cy="746.6" r="6.1"/><circle cx="1365.4" cy="550.6" r="6.1"/><circle cx="1379.2" cy="437.2" r="6.1"/><circle cx="1393" cy="394.2" r="6.1"/><circle cx="1406.9" cy="354.9" r="6.1"/><circle cx="1420.7" cy="320.9" r="6.1"/><circle cx="1434.5" cy="292.4" r="6.1"/><circle cx="1448.3" cy="249" r="6.1"/><circle cx="1462.1" cy="213.6" r="6.1"/><circle cx="1476" cy="203.5" r="6.1"/><circle cx="1489.8" cy="198.5" r="6.1"/><circle cx="1503.6" cy="208.6" r="6.1"/><circle cx="1510.5" cy="231.2" r="6.1"/><circle cx="1517.4" cy="259.1" r="6.1"/><circle cx="1531.3" cy="291.6" r="6.1"/><circle cx="1545.1" cy="349.4" r="6.1"/><circle cx="1558.9" cy="385.5" r="6.1"/><circle cx="1572.7" cy="421.6" r="6.1"/><circle cx="1579.6" cy="449.8" r="6.1"/><circle cx="1586.5" cy="471.9" r="6.1"/><circle cx="1600.4" cy="494.5" r="6.1"/><circle cx="1614.2" cy="556.4" r="6.1"/><circle cx="1648.7" cy="649.7" r="6.1"/><circle cx="1683.3" cy="721.4" r="6.1"/><circle cx="1717.9" cy="748.6" r="6.1"/><circle cx="1752.4" cy="772.4" r="6.1"/><circle cx="1821.5" cy="806" r="6.1"/><circle cx="1890.6" cy="830.1" r="6.1"/><circle cx="1959.7" cy="848.9" r="6.1"/><circle cx="2028.8" cy="861.6" r="6.1"/>
</g></g>
<g><path d="M1351.6 744.5C1351.6 744.5 1351.6 744.5 1353.9 711.6C1356.2 678.6 1360.8 612.7 1365.4 559.2C1370 505.8 1374.6 464.7 1379.2 434.4C1383.8 404 1388.4 384.2 1393 367.2C1397.6 350.1 1402.3 335.6 1406.9 322.7C1411.5 309.7 1416.1 298.1 1420.7 287.3C1425.3 276.5 1429.9 266.3 1434.5 256.3C1439.1 246.3 1443.7 236.5 1448.3 227.5C1452.9 218.5 1457.5 210.4 1462.1 204C1466.8 197.6 1471.4 192.8 1476 190.8C1480.6 188.7 1485.2 189.2 1489.8 190.8C1494.4 192.4 1499 195.1 1502.5 196.3C1505.9 197.5 1508.2 197.2 1510.5 199.5C1512.8 201.8 1515.1 206.6 1518.6 211.8C1522 217.1 1526.7 222.8 1531.3 229C1535.9 235.2 1540.5 242 1545.1 251.7C1549.7 261.3 1554.3 274 1558.9 289.9C1563.5 305.8 1568.1 325.1 1571.6 341.7C1575 358.3 1577.3 372.2 1579.6 385.6C1581.9 399 1584.2 411.7 1587.7 425C1591.2 438.4 1595.8 452.2 1600.4 467.5C1605 482.8 1609.6 499.5 1617.6 520.7C1625.7 542 1637.2 567.7 1648.7 592.5C1660.3 617.3 1671.8 641 1683.3 661.5C1694.8 681.9 1706.3 698.9 1717.9 713.9C1729.4 728.9 1740.9 741.7 1758.2 753.9C1775.4 766.1 1798.5 777.5 1821.5 787.9C1844.6 798.2 1867.6 807.4 1890.6 815.2C1913.7 822.9 1936.7 829.3 1959.7 833.7C1982.8 838.1 2005.8 840.6 2017.3 841.9C2028.8 843.1 2028.8 843.1 2028.9 843.1" fill="none" stroke="#0808C8" stroke-width="6.4" stroke-linejoin="round" stroke-linecap="round"/>
<g fill="#5A6CFA" stroke="#000000" stroke-width="1.9">
<circle cx="1351.6" cy="744.5" r="6.1"/><circle cx="1365.4" cy="546.8" r="6.1"/><circle cx="1379.2" cy="423.7" r="6.1"/><circle cx="1393" cy="364.5" r="6.1"/><circle cx="1406.9" cy="321.2" r="6.1"/><circle cx="1420.7" cy="286.6" r="6.1"/><circle cx="1434.5" cy="256.2" r="6.1"/><circle cx="1448.3" cy="226.6" r="6.1"/><circle cx="1462.1" cy="202.3" r="6.1"/><circle cx="1476" cy="188.1" r="6.1"/><circle cx="1489.8" cy="189.8" r="6.1"/><circle cx="1503.6" cy="197.7" r="6.1"/><circle cx="1510.5" cy="197" r="6.1"/><circle cx="1517.4" cy="211.4" r="6.1"/><circle cx="1531.3" cy="228.5" r="6.1"/><circle cx="1545.1" cy="248.7" r="6.1"/><circle cx="1558.9" cy="286.6" r="6.1"/><circle cx="1572.7" cy="344.3" r="6.1"/><circle cx="1579.6" cy="386.2" r="6.1"/><circle cx="1586.5" cy="424.5" r="6.1"/><circle cx="1600.4" cy="466.1" r="6.1"/><circle cx="1614.2" cy="516.2" r="6.1"/><circle cx="1648.7" cy="593.5" r="6.1"/><circle cx="1683.3" cy="664.8" r="6.1"/><circle cx="1717.9" cy="716" r="6.1"/><circle cx="1752.4" cy="754.6" r="6.1"/><circle cx="1821.5" cy="789" r="6.1"/><circle cx="1890.6" cy="816.6" r="6.1"/><circle cx="1959.7" cy="835.6" r="6.1"/><circle cx="2028.8" cy="843.1" r="6.1"/>
</g></g>
<g><path d="M1351.6 719C1351.6 719 1351.6 719 1353.9 694.3C1356.2 669.6 1360.8 620.3 1365.4 575.7C1370 531.2 1374.6 491.5 1379.2 451.6C1383.8 411.6 1388.4 371.5 1393 344.5C1397.6 317.6 1402.3 303.9 1406.9 289.8C1411.5 275.6 1416.1 261.1 1420.7 248.4C1425.3 235.8 1429.9 225 1434.5 215.7C1439.1 206.4 1443.7 198.4 1448.3 192.1C1452.9 185.7 1457.5 180.9 1462.1 176.5C1466.8 172 1471.4 167.9 1476 164.8C1480.6 161.6 1485.2 159.5 1489.8 157.4C1494.4 155.3 1499 153.2 1502.5 152.6C1505.9 152 1508.2 152.9 1510.5 154C1512.8 155.1 1515.1 156.6 1518.6 159.9C1522 163.3 1526.7 168.6 1531.3 177.5C1535.9 186.4 1540.5 198.9 1545.1 211.8C1549.7 224.6 1554.3 237.9 1558.9 252.3C1563.5 266.8 1568.1 282.4 1571.6 295.8C1575 309.2 1577.3 320.2 1579.6 334.4C1581.9 348.6 1584.2 366 1587.7 382.8C1591.2 399.7 1595.8 416.1 1600.4 431.3C1605 446.4 1609.6 460.4 1617.6 484.1C1625.7 507.8 1637.2 541.2 1648.7 566.3C1660.3 591.3 1671.8 607.9 1683.3 628.3C1694.8 648.7 1706.3 673 1717.9 692.9C1729.4 712.7 1740.9 728.3 1758.2 743.5C1775.4 758.8 1798.5 773.8 1821.5 786.3C1844.6 798.7 1867.6 808.7 1890.6 815.3C1913.7 822 1936.7 825.3 1959.7 827.5C1982.8 829.6 2005.8 830.6 2017.3 831C2028.8 831.5 2028.8 831.5 2028.9 831.5" fill="none" stroke="#70008E" stroke-width="6.4" stroke-linejoin="round" stroke-linecap="round"/>
<g fill="#D835FA" stroke="#000000" stroke-width="1.9">
<circle cx="1351.6" cy="719" r="6.1"/><circle cx="1365.4" cy="570.9" r="6.1"/><circle cx="1379.2" cy="451.8" r="6.1"/><circle cx="1393" cy="331.3" r="6.1"/><circle cx="1406.9" cy="290.2" r="6.1"/><circle cx="1420.7" cy="246.5" r="6.1"/><circle cx="1434.5" cy="214.3" r="6.1"/><circle cx="1448.3" cy="190.5" r="6.1"/><circle cx="1462.1" cy="176.1" r="6.1"/><circle cx="1476" cy="163.8" r="6.1"/><circle cx="1489.8" cy="157.3" r="6.1"/><circle cx="1503.6" cy="151.2" r="6.1"/><circle cx="1510.5" cy="153.7" r="6.1"/><circle cx="1517.4" cy="158" r="6.1"/><circle cx="1531.3" cy="173.9" r="6.1"/><circle cx="1545.1" cy="211.4" r="6.1"/><circle cx="1558.9" cy="251.1" r="6.1"/><circle cx="1572.7" cy="298.1" r="6.1"/><circle cx="1579.6" cy="331.3" r="6.1"/><circle cx="1586.5" cy="383.3" r="6.1"/><circle cx="1600.4" cy="432.5" r="6.1"/><circle cx="1614.2" cy="474.3" r="6.1"/><circle cx="1648.7" cy="574.7" r="6.1"/><circle cx="1683.3" cy="624.5" r="6.1"/><circle cx="1717.9" cy="697.2" r="6.1"/><circle cx="1752.4" cy="743.8" r="6.1"/><circle cx="1821.5" cy="788.8" r="6.1"/><circle cx="1890.6" cy="818.6" r="6.1"/><circle cx="1959.7" cy="828.7" r="6.1"/><circle cx="2028.8" cy="831.5" r="6.1"/>
</g></g>
<g stroke="#000" fill="none" stroke-linecap="butt">
<path d="M1267.2 50.4H2100.1" stroke-width="2.5"/>
<path d="M2098.8 50.4V873.5" stroke-width="2.5"/>
<path d="M1267.2 873.5H2100.1" stroke-width="2.5"/>
<path d="M1268.5 50.4V873.5" stroke-width="2.5"/>
</g>
<path d="M1268.5 873.5v9M1337.5 873.5v18.5M1337.5 50.4v18.5M1406.6 873.5v9M1406.6 50.4v9M1475.7 873.5v18.5M1475.7 50.4v18.5M1544.8 873.5v9M1544.8 50.4v9M1613.9 873.5v18.5M1613.9 50.4v18.5M1683 873.5v9M1683 50.4v9M1752.2 873.5v18.5M1752.2 50.4v18.5M1821.3 873.5v9M1821.3 50.4v9M1890.4 873.5v18.5M1890.4 50.4v18.5M1959.5 873.5v9M1959.5 50.4v9M2028.6 873.5v18.5M2028.6 50.4v18.5M2098.8 873.5v9M1268.5 873.5h-18.5M2098.8 873.5h-18.5M1268.5 723.8h-18.5M2098.8 723.8h-18.5M1268.5 574.1h-18.5M2098.8 574.1h-18.5M1268.5 424.5h-18.5M2098.8 424.5h-18.5M1268.5 274.8h-18.5M2098.8 274.8h-18.5M1268.5 125.1h-18.5M2098.8 125.1h-18.5M1268.5 798.7h-9M2098.8 798.7h-9M1268.5 649h-9M2098.8 649h-9M1268.5 499.3h-9M2098.8 499.3h-9M1268.5 349.6h-9M2098.8 349.6h-9M1268.5 199.9h-9M2098.8 199.9h-9M1268.5 50.4h-9" fill="none" stroke="#000" stroke-width="2.5" stroke-linecap="butt" stroke-linejoin="miter"/>
<g font-size="40.3" text-anchor="middle">
<text x="1337.5" y="936">0</text>
<text x="1475.7" y="936">20</text>
<text x="1613.9" y="936">40</text>
<text x="1752.2" y="936">60</text>
<text x="1890.4" y="936">80</text>
<text x="2028.6" y="936">100</text>
</g><g font-size="40.3" text-anchor="end">
<text x="1237.5" y="886.3">0.000</text>
<text x="1237.5" y="736.6">0.005</text>
<text x="1237.5" y="586.9">0.010</text>
<text x="1237.5" y="437.3">0.015</text>
<text x="1237.5" y="287.6">0.020</text>
<text x="1237.5" y="137.9">0.025</text>
</g>
<text font-size="49.0" text-anchor="middle" x="1683.3" y="1011.3">T (K)</text>
<text font-size="49.0" text-anchor="middle" transform="translate(1117.3 460) rotate(-90)" stroke="#fff" stroke-width="0.8" paint-order="fill stroke" letter-spacing="0.2" xml:space="preserve"><tspan font-family="'Liberation Serif', serif" font-size="52" stroke-width="0.4">χ</tspan><tspan dy="1.5" font-size="55">''</tspan><tspan dy="-1.5"> (emu/g)</tspan></text>
<text font-size="49.0" x="1091.6" y="61.6">B</text>
<path d="M1819.6 100.7H1918.4" stroke="#A8005F" stroke-width="3.8" stroke-linecap="round" fill="none"/>
<circle cx="1869" cy="100.7" r="5.9" fill="#FF40B0" stroke="#404040" stroke-width="2.0"/>
<text font-size="44.8" x="1930.5" y="116.5">0.1 Hz</text>
<path d="M1819.6 155.1H1918.4" stroke="#BA580C" stroke-width="3.8" stroke-linecap="round" fill="none"/>
<circle cx="1869" cy="155.1" r="5.9" fill="#F4A460" stroke="#404040" stroke-width="2.0"/>
<text font-size="44.8" x="1930.5" y="170.9">1 Hz</text>
<path d="M1819.6 209.4H1918.4" stroke="#AEA412" stroke-width="3.8" stroke-linecap="round" fill="none"/>
<circle cx="1869" cy="209.4" r="5.9" fill="#EDE566" stroke="#404040" stroke-width="2.0"/>
<text font-size="44.8" x="1930.5" y="225.2">10 Hz</text>
<path d="M1819.6 263.8H1918.4" stroke="#0B9A0B" stroke-width="3.8" stroke-linecap="round" fill="none"/>
<circle cx="1869" cy="263.8" r="5.9" fill="#3CFA3C" stroke="#404040" stroke-width="2.0"/>
<text font-size="44.8" x="1930.5" y="279.6">50 Hz</text>
<path d="M1819.6 318.1H1918.4" stroke="#0B8E8E" stroke-width="3.8" stroke-linecap="round" fill="none"/>
<circle cx="1869" cy="318.1" r="5.9" fill="#2CFAFA" stroke="#404040" stroke-width="2.0"/>
<text font-size="44.8" x="1930.5" y="333.9">100 Hz</text>
<path d="M1819.6 372.4H1918.4" stroke="#0808C8" stroke-width="3.8" stroke-linecap="round" fill="none"/>
<circle cx="1869" cy="372.4" r="5.9" fill="#5A6CFA" stroke="#404040" stroke-width="2.0"/>
<text font-size="44.8" x="1930.5" y="388.2">250 Hz</text>
<path d="M1819.6 426.8H1918.4" stroke="#70008E" stroke-width="3.8" stroke-linecap="round" fill="none"/>
<circle cx="1869" cy="426.8" r="5.9" fill="#D835FA" stroke="#404040" stroke-width="2.0"/>
<text font-size="44.8" x="1930.5" y="442.6">500 Hz</text>
<text font-size="49.0" x="1809.3" y="547.2">H<tspan font-size="33.5" dy="14.3">AC</tspan><tspan dy="-14.3">=3.5 Oe</tspan></text>
<text font-size="49.0" x="1809.3" y="619.1">H<tspan font-size="33.5" dy="14.3">DC</tspan><tspan dy="-14.3">=0 Oe</tspan></text>
</g>
</svg>
</body>
</html>
